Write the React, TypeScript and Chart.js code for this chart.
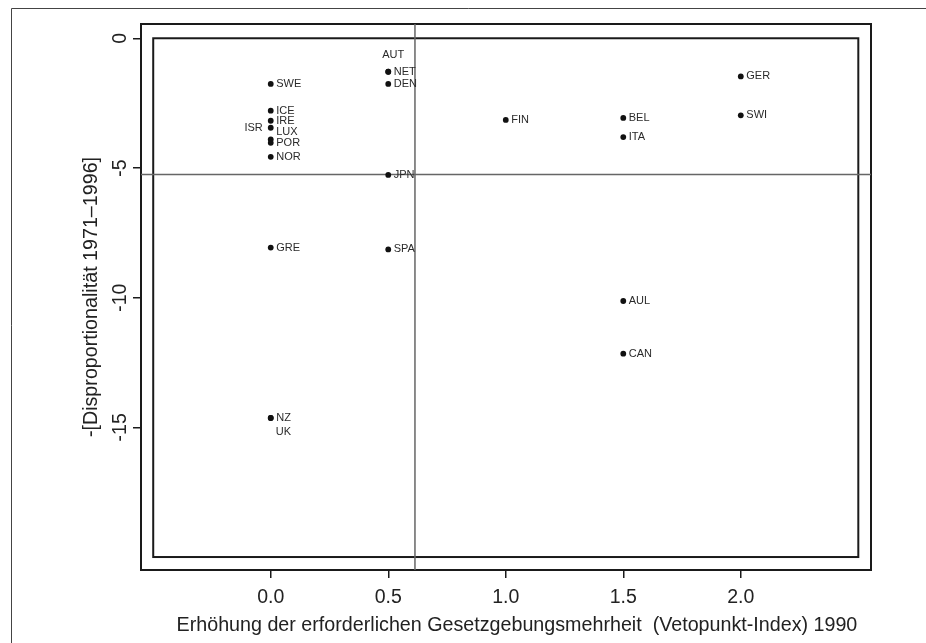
import React, { useEffect, useRef } from 'react';
import { Chart, registerables } from 'chart.js';

Chart.register(...registerables);

// ---------- data ----------
const countries = ['AUT', 'NET', 'DEN', 'SWE', 'ICE', 'IRE', 'ISR', 'LUX', 'POR', 'NOR', 'JPN', 'GRE', 'SPA', 'NZ', 'UK', 'FIN', 'BEL', 'ITA', 'GER', 'SWI', 'AUL', 'CAN'];
const vetoIndex = [0.5, 0.5, 0.5, 0, 0, 0, 0, 0, 0, 0, 0.5, 0, 0.5, 0, 0, 1.0, 1.5, 1.5, 2.0, 2.0, 1.5, 1.5];
const disproportionality = [-1.29, -1.29, -1.76, -1.76, -2.79, -3.18, -3.45, -3.9, -4.03, -4.57, -5.27, -8.07, -8.14, -14.64, -14.64, -3.15, -3.07, -3.81, -1.47, -2.97, -10.13, -12.16];
// label placement (clock-like) for each marker label
const labelSide = ['above', 'right', 'right', 'right', 'right', 'right', 'left', 'upright', 'right', 'right', 'right', 'right', 'right', 'right', 'belowright', 'right', 'right', 'right', 'right', 'right', 'right', 'right'];

const xTicks = [0, 0.5, 1.0, 1.5, 2.0];
const yTicks = [0, -5, -10, -15];
const plotRegionX = [-0.5, 2.5];
const plotRegionY = [-20, 0];
const xRange = [-0.552, 2.554];
const yRange = [-20.5, 0.55];

const xTitle = '    Erhöhung der erforderlichen Gesetzgebungsmehrheit  (Vetopunkt-Index) 1990';
const yTitle = '-[Disproportionalität 1971–1996]';

const FONT = "'Liberation Sans', Arial, Helvetica, sans-serif";
const mean = (a: number[]) => a.reduce((s, v) => s + v, 0) / a.length;

const framePlugin = {
  id: 'frame',
  beforeDraw(chart: any) {
    const { ctx, width, height } = chart;
    ctx.save();
    ctx.fillStyle = '#ffffff';
    ctx.fillRect(0, 0, width, height);
    ctx.strokeStyle = '#444';
    ctx.lineWidth = 1;
    ctx.beginPath();
    ctx.moveTo(11.5, height);
    ctx.lineTo(11.5, 8.5);
    ctx.lineTo(width, 8.5);
    ctx.stroke();
    ctx.restore();
  },
  beforeDatasetsDraw(chart: any) {
    const { ctx, chartArea: a, scales } = chart;
    const xs = scales.x;
    const ys = scales.y;
    ctx.save();
    // outer box
    ctx.strokeStyle = '#1a1a1a';
    ctx.lineWidth = 2;
    ctx.strokeRect(a.left, a.top, a.right - a.left, a.bottom - a.top);
    // inner plot region box
    const l = xs.getPixelForValue(plotRegionX[0]);
    const r = xs.getPixelForValue(plotRegionX[1]);
    const t = ys.getPixelForValue(plotRegionY[1]);
    const b = ys.getPixelForValue(plotRegionY[0]);
    ctx.strokeRect(l, t, r - l, b - t);
    // mean reference lines
    const mx = xs.getPixelForValue(mean(vetoIndex));
    const my = ys.getPixelForValue(mean(disproportionality));
    ctx.strokeStyle = '#666';
    ctx.lineWidth = 1.5;
    ctx.beginPath();
    ctx.moveTo(mx, a.top);
    ctx.lineTo(mx, a.bottom);
    ctx.moveTo(a.left, my);
    ctx.lineTo(a.right, my);
    ctx.stroke();
    ctx.restore();
  },
  afterDatasetsDraw(chart: any) {
    const { ctx } = chart;
    const meta = chart.getDatasetMeta(0);
    ctx.save();
    ctx.font = `11px ${FONT}`;
    ctx.fillStyle = '#2a2a2a';
    meta.data.forEach((pt: any, i: number) => {
      const side = labelSide[i];
      const txt = countries[i];
      let x = pt.x;
      let y = pt.y;
      ctx.textBaseline = 'middle';
      if (side === 'left') {
        ctx.textAlign = 'right';
        x -= 8;
      } else if (side === 'above') {
        ctx.textAlign = 'center';
        x += 5;
        y -= 17;
      } else if (side === 'upright') {
        ctx.textAlign = 'left';
        x += 5.5;
        y -= 7;
      } else if (side === 'belowright') {
        ctx.textAlign = 'left';
        x += 5;
        y += 14;
      } else {
        ctx.textAlign = 'left';
        x += 5.5;
      }
      ctx.fillText(txt, x, y);
    });
    ctx.restore();
  },
};

export default function App() {
  const ref = useRef<HTMLCanvasElement>(null);
  useEffect(() => {
    if (!ref.current) return;
    const chart = new Chart(ref.current, {
      type: 'scatter',
      data: {
        datasets: [
          {
            data: vetoIndex.map((v, i) => ({ x: v, y: disproportionality[i] })),
            pointRadius: 2.9,
            pointBackgroundColor: '#111',
            pointBorderWidth: 0,
            showLine: false,
          },
        ],
      },
      options: {
        animation: false,
        responsive: false,
        devicePixelRatio: 1,
        layout: { padding: { left: 0, top: 24, right: 55, bottom: 0 } },
        plugins: { legend: { display: false }, tooltip: { enabled: false } },
        scales: {
          x: {
            type: 'linear',
            min: xRange[0],
            max: xRange[1],
            afterBuildTicks: (s: any) => {
              s.ticks = xTicks.map((v) => ({ value: v }));
            },
            afterFit: (s: any) => {
              s.height = 73;
            },
            border: { display: false },
            grid: { drawOnChartArea: false, drawTicks: true, tickLength: 8, color: '#1a1a1a', lineWidth: 1.5 },
            ticks: {
              callback: (v: any) => Number(v).toFixed(1),
              font: { family: FONT, size: 19.5, lineHeight: 1 },
              color: '#222',
              padding: 10,
              maxRotation: 0,
              minRotation: 0,
            },
            title: {
              display: true,
              text: xTitle,
              font: { family: FONT, size: 19.7, lineHeight: 1 },
              color: '#222',
              padding: { top: 0, bottom: 8 },
            },
          },
          y: {
            type: 'linear',
            min: yRange[0],
            max: yRange[1],
            afterBuildTicks: (s: any) => {
              s.ticks = yTicks.map((v) => ({ value: v })).sort((a, b) => a.value - b.value);
            },
            afterFit: (s: any) => {
              s.width = 141;
            },
            border: { display: false },
            grid: { drawOnChartArea: false, drawTicks: true, tickLength: 8, color: '#1a1a1a', lineWidth: 1.5 },
            ticks: {
              callback: (v: any) => String(v),
              font: { family: FONT, size: 19.5, lineHeight: 1 },
              color: '#222',
              padding: -1.5,
              minRotation: 90,
              maxRotation: 90,
              crossAlign: 'center',
            },
            title: {
              display: true,
              text: yTitle,
              font: { family: FONT, size: 19.7, lineHeight: 1 },
              color: '#222',
              padding: { top: 82, bottom: 0 },
            },
          },
        },
      },
      plugins: [framePlugin],
    } as any);
    return () => chart.destroy();
  }, []);
  return (
    <div style={{ position: 'fixed', left: 0, top: 0, width: 926, height: 643, background: '#fff' }}>
      <canvas ref={ref} width={926} height={643} style={{ display: 'block', width: 926, height: 643 }} />
    </div>
  );
}
